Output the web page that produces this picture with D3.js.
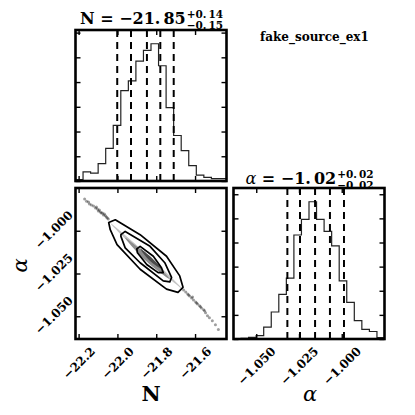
<!DOCTYPE html>
<html><head><meta charset="utf-8">
<script src="https://cdn.jsdelivr.net/npm/d3@7/dist/d3.min.js"></script>
<style>body{margin:0;background:#fff} svg{display:block}</style>
</head><body>
<svg id="c" width="415" height="415"></svg>
<script>
// ---------- data ----------
const nRange = [-22.216, -21.438];
const aRange = [-1.0633, -0.9750];
const nTicks = [-22.2, -22.0, -21.8, -21.6];
const nTickLabels = ["\u221222.2", "\u221222.0", "\u221221.8", "\u221221.6"];
const aTicks = [-1.050, -1.025, -1.000];
const aTickLabels = ["\u22121.050", "\u22121.025", "\u22121.000"];
const countTicks = [0, 100, 200, 300, 400, 500, 600];
const nCounts = [6, 37, 32, 70, 132, 225, 365, 405, 485, 528, 555, 466, 297, 184, 123, 62, 24, 15, 10, 10];
const aCounts = [1, 3, 7, 14, 49, 112, 185, 252, 431, 496, 569, 496, 446, 386, 241, 152, 76, 40, 31, 6];
const nQuantiles = [-22.001, -21.930, -21.848, -21.779, -21.710];
const aQuantiles = [-1.0318, -1.0244, -1.0156, -1.0069, -0.9987];
const nTitle = {name: "N", int: "\u221221.", frac: "85", plus: ["+0.", "14"], minus: ["\u22120.", "15"]};
const aTitle = {name: "\u03b1", int: "\u22121.", frac: "02", plus: ["+0.", "02"], minus: ["\u22120.", "02"]};
const sourceName = "fake_source_ex1";
// 2D panel: tail samples (N, alpha)
const tailPoints = [
  [-22.169,-0.9815],[-22.159,-0.9827],[-22.149,-0.9832],[-22.144,-0.9844],[-22.134,-0.9850],
  [-22.123,-0.9855],[-22.113,-0.9867],[-22.108,-0.9861],[-22.103,-0.9873],[-22.098,-0.9884],
  [-22.093,-0.9879],[-22.088,-0.9890],[-22.083,-0.9896],[-22.077,-0.9896],[-22.072,-0.9908],
  [-22.067,-0.9902],[-22.062,-0.9913],[-22.057,-0.9919],[-22.052,-0.9925],[-22.047,-0.9931],
  [-21.659,-1.0347],[-21.648,-1.0358],[-21.638,-1.0370],[-21.633,-1.0376],[-21.628,-1.0382],
  [-21.618,-1.0393],[-21.613,-1.0387],[-21.608,-1.0405],[-21.597,-1.0416],[-21.592,-1.0422],
  [-21.587,-1.0428],[-21.577,-1.0439],[-21.572,-1.0445],[-21.567,-1.0451],[-21.556,-1.0462],
  [-21.551,-1.0468],[-21.546,-1.0480],[-21.536,-1.0497],[-21.526,-1.0509],[-21.511,-1.0526],
  [-21.495,-1.0549],[-21.480,-1.0578]
];
const densityLevels = [
  [[-22.037,-0.9954],[-21.843,-1.0142],[-21.664,-1.0341],[-21.857,-1.0159]],
  [[-21.960,-1.0041],[-21.836,-1.0155],[-21.730,-1.0283],[-21.854,-1.0176]],
  [[-21.883,-1.0104],[-21.821,-1.0161],[-21.771,-1.0225],[-21.833,-1.0176]]
];
const contourOuter = [[-22.045,-0.9952],[-22.011,-0.9936],[-21.883,-1.0023],[-21.747,-1.0149],[-21.679,-1.0264],[-21.662,-1.0331],[-21.688,-1.0360],[-21.747,-1.0341],[-21.883,-1.0225],[-22.002,-1.0081],[-22.037,-0.9994]];
const contourMiddle = [[-21.982,-1.0023],[-21.960,-1.0004],[-21.832,-1.0091],[-21.756,-1.0187],[-21.721,-1.0273],[-21.730,-1.0299],[-21.764,-1.0293],[-21.883,-1.0187],[-21.960,-1.0100],[-21.982,-1.0033]];
const contourInner = [[-21.900,-1.0106],[-21.883,-1.0091],[-21.815,-1.0149],[-21.773,-1.0216],[-21.764,-1.0245],[-21.790,-1.0245],[-21.849,-1.0197],[-21.897,-1.0129]];

// ---------- layout ----------
const FONT = "'DejaVu Serif', serif";
const svg = d3.select("#c");
const S = 151;
const col = [75.5, 233.5], row = [30, 188];

const xN = d3.scaleLinear().domain(nRange).range([col[0], col[0] + S]);
const xA = d3.scaleLinear().domain(aRange).range([col[1], col[1] + S]);
const yA = d3.scaleLinear().domain(aRange).range([row[1] + S, row[1]]);
const yNh = d3.scaleLinear().domain([0, d3.max(nCounts) * 1.1]).range([row[0] + S, row[0]]);
const yAh = d3.scaleLinear().domain([0, d3.max(aCounts) * 1.1]).range([row[1] + S, row[1]]);

const defs = svg.append("defs");
function clip(id, x, y) {
  defs.append("clipPath").attr("id", id).append("rect").attr("x", x).attr("y", y).attr("width", S).attr("height", S);
  return "url(#" + id + ")";
}

function histPath(counts, range, xs, ys) {
  const n = counts.length, w = (range[1] - range[0]) / n;
  const pts = [[range[0], 0]];
  counts.forEach((c, i) => { pts.push([range[0] + i * w, c]); pts.push([range[0] + (i + 1) * w, c]); });
  pts.push([range[1], 0]);
  return d3.line().x(d => xs(d[0])).y(d => ys(d[1]))(pts);
}

function ticks(x0, y0, xs, xt, ys, yt) {
  const g = svg.append("g");
  const mk = (axis, tx, ty) => {
    const a = g.append("g").attr("transform", `translate(${tx},${ty})`).call(axis);
    a.select(".domain").remove();
    a.selectAll("line").attr("stroke", "#000").attr("stroke-width", 1.4);
    a.selectAll("text").remove();
  };
  mk(d3.axisBottom(xs).tickValues(xt).tickSize(-5).tickFormat(""), 0, y0 + S);
  mk(d3.axisTop(xs).tickValues(xt).tickSize(-5).tickFormat(""), 0, y0);
  mk(d3.axisLeft(ys).tickValues(yt).tickSize(-5).tickFormat(""), x0, 0);
  mk(d3.axisRight(ys).tickValues(yt).tickSize(-5).tickFormat(""), x0 + S, 0);
}
function frame(x, y) {
  svg.append("rect").attr("x", x).attr("y", y).attr("width", S).attr("height", S)
    .attr("fill", "none").attr("stroke", "#000").attr("stroke-width", 2.6);
}

// ---------- top-left histogram (N) ----------
{
  const g = svg.append("g").attr("clip-path", clip("c0", col[0], row[0]));
  g.append("path").attr("d", histPath(nCounts, nRange, xN, yNh))
    .attr("fill", "none").attr("stroke", "#222").attr("stroke-width", 1.2);
  g.selectAll("line.q").data(nQuantiles).join("line")
    .attr("x1", d => xN(d)).attr("x2", d => xN(d)).attr("y1", row[0]).attr("y2", row[0] + S)
    .attr("stroke", "#000").attr("stroke-width", 2).attr("stroke-dasharray", "7,5");
  ticks(col[0], row[0], xN, nTicks, yNh, countTicks);
  frame(col[0], row[0]);
}
// ---------- right histogram (alpha) ----------
{
  const g = svg.append("g").attr("clip-path", clip("c1", col[1], row[1]));
  g.append("path").attr("d", histPath(aCounts, aRange, xA, yAh))
    .attr("fill", "none").attr("stroke", "#222").attr("stroke-width", 1.2);
  g.selectAll("line.q").data(aQuantiles).join("line")
    .attr("x1", d => xA(d)).attr("x2", d => xA(d)).attr("y1", row[1]).attr("y2", row[1] + S)
    .attr("stroke", "#000").attr("stroke-width", 2).attr("stroke-dasharray", "7,5");
  ticks(col[1], row[1], xA, aTicks, yAh, countTicks);
  frame(col[1], row[1]);
}
// ---------- 2D panel ----------
{
  const g = svg.append("g").attr("clip-path", clip("c2", col[0], row[1]));
  g.selectAll("circle").data(tailPoints).join("circle")
    .attr("cx", d => xN(d[0])).attr("cy", d => yA(d[1])).attr("r", 1.5)
    .attr("fill", "#000").attr("fill-opacity", 0.38);
  const closed = d3.line().x(d => xN(d[0])).y(d => yA(d[1])).curve(d3.curveLinearClosed);
  const lens = d3.line().x(d => xN(d[0])).y(d => yA(d[1])).curve(d3.curveCatmullRomClosed);
  g.append("path").attr("d", closed(contourOuter)).attr("fill", "#fff");
  const fills = ["#c4c4c4", "#8c8c8c", "#4a4a4a"];
  densityLevels.forEach((p, i) => g.append("path").attr("d", lens(p)).attr("fill", fills[i]));
  [contourOuter, contourMiddle, contourInner].forEach(c =>
    g.append("path").attr("d", closed(c)).attr("fill", "none").attr("stroke", "#000")
      .attr("stroke-width", 1.7).attr("stroke-linejoin", "round"));
  ticks(col[0], row[1], xN, nTicks, yA, aTicks);
  frame(col[0], row[1]);
}

// ---------- tick labels ----------
const TFS = 12;
function rotLabel(text, cxFn, cyFn) {
  const t = svg.append("text").attr("font-family", FONT).attr("font-weight", "bold")
    .attr("font-size", TFS).attr("text-anchor", "middle").attr("dominant-baseline", "central").text(text);
  const L = t.node().getComputedTextLength();
  const half = (L + 0.75 * TFS) * 0.3536;
  const cx = cxFn(half), cy = cyFn(half);
  t.attr("x", cx).attr("y", cy).attr("transform", `rotate(-45,${cx},${cy})`);
}
nTicks.forEach((t, i) => rotLabel(nTickLabels[i], h => xN(t) + 0.5, h => 346 + h));
aTicks.forEach((t, i) => rotLabel(aTickLabels[i], h => xA(t) + 0.5, h => 346 + h));
aTicks.forEach((t, i) => rotLabel(aTickLabels[i], h => 74 - h, h => yA(t) - 1));

// ---------- axis labels ----------
svg.append("text").attr("x", xN.range()[0] + S / 2).attr("y", 401).attr("text-anchor", "middle")
  .attr("font-family", FONT).attr("font-weight", "bold").attr("font-size", 21).text("N");
svg.append("text").attr("x", xA.range()[0] + S / 2 + 1).attr("y", 401).attr("text-anchor", "middle")
  .attr("font-family", FONT).attr("font-style", "italic").attr("font-size", 21).text("\u03b1");
svg.append("text").attr("transform", `translate(26.5,${row[1] + S / 2 + 2}) rotate(-90)`).attr("text-anchor", "middle")
  .attr("font-family", FONT).attr("font-style", "italic").attr("font-size", 21).text("\u03b1");

// ---------- titles ----------
function drawTitle(cx, y, T, nameItalic) {
  const g = svg.append("g").attr("font-family", FONT);
  const m = g.append("text").attr("y", y).attr("font-size", 16).attr("font-weight", "bold");
  m.append("tspan").attr("font-style", nameItalic ? "italic" : null).attr("font-weight", nameItalic ? "normal" : null).text(T.name);
  m.append("tspan").text(" = " + T.int);
  m.append("tspan").attr("dx", 3).text(T.frac);
  const mw = m.node().getBBox().width;
  const sup = g.append("text").attr("y", y - 6).attr("font-size", 10.5).attr("font-weight", "bold");
  sup.append("tspan").text(T.plus[0]); sup.append("tspan").attr("dx", 2).text(T.plus[1]);
  const sub = g.append("text").attr("y", y + 4.5).attr("font-size", 10.5).attr("font-weight", "bold");
  sub.append("tspan").text(T.minus[0]); sub.append("tspan").attr("dx", 2).text(T.minus[1]);
  const sw = Math.max(sup.node().getBBox().width, sub.node().getBBox().width);
  const x0 = cx - (mw + sw) / 2;
  m.attr("x", x0); sup.attr("x", x0 + mw + 1); sub.attr("x", x0 + mw + 1);
}
drawTitle(col[0] + S / 2, 24, nTitle, false);
drawTitle(col[1] + S / 2, 184, aTitle, true);

svg.append("text").attr("x", 260).attr("y", 41).attr("font-family", FONT).attr("font-weight", "bold")
  .attr("font-size", 12).text(sourceName);
</script>
</body></html>
